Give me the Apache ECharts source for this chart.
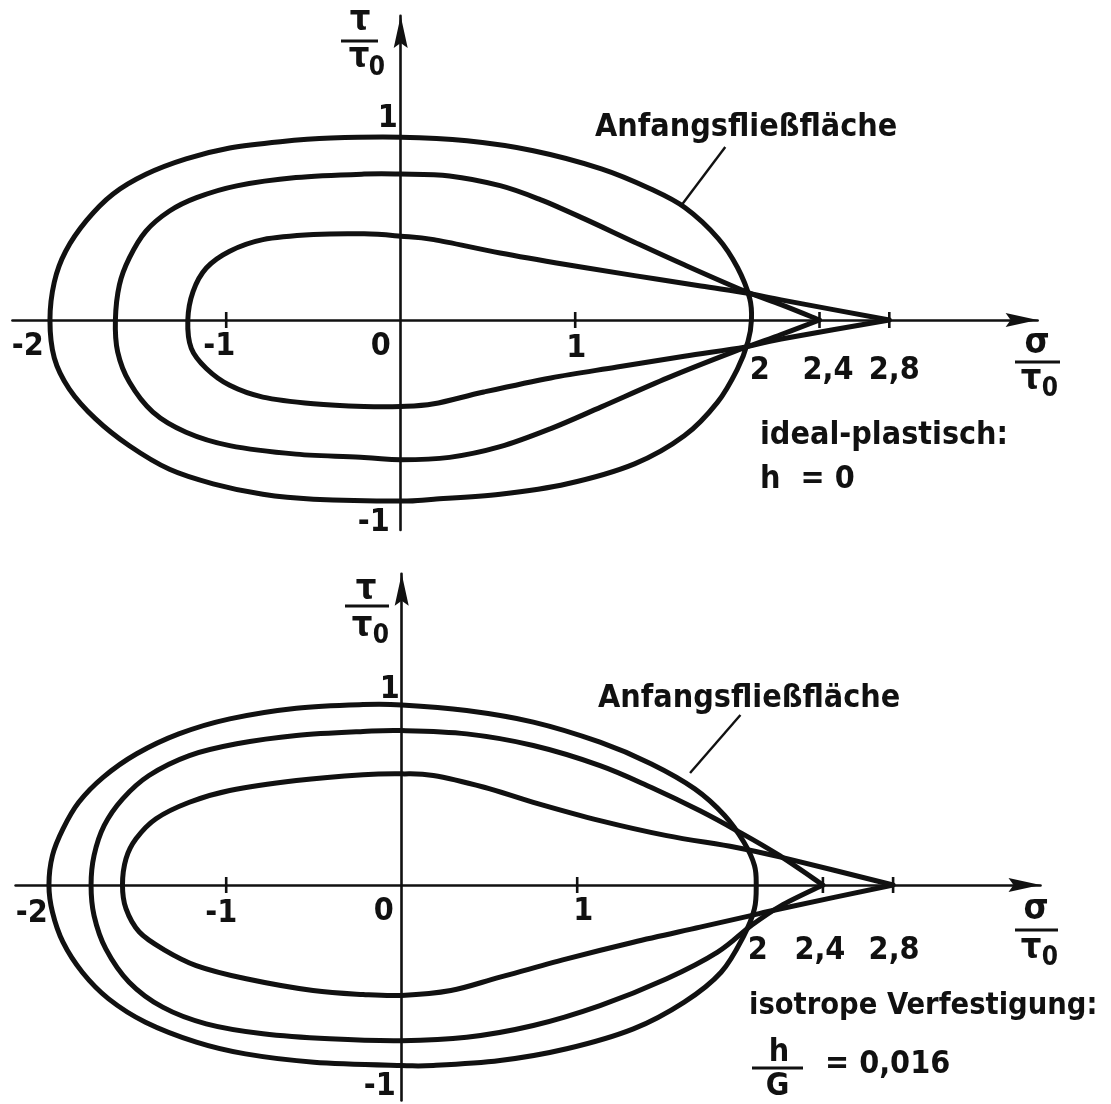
<!DOCTYPE html>
<html>
<head>
<meta charset="utf-8">
<script src="https://cdn.jsdelivr.net/npm/echarts@6/dist/echarts.min.js"></script>
<style>
  html, body { margin: 0; padding: 0; background: #fff; }
  #main { width: 1111px; height: 1104px; }
</style>
</head>
<body>
<div id="main"></div>
<script>
// Yield surfaces in the (sigma/tau0, tau/tau0) plane

// ---- tick values and their printed labels (decimal comma) ----
const sigmaTickMarks  = [-1, 1, 2.4, 2.8];
const sigmaTickValues = [-2, -1, 0, 1, 2, 2.4, 2.8];
const sigmaTickLabels = ['-2', '-1', '0', '1', '2', '2,4', '2,8'];
const tauTickValues   = [1, -1];
const tauTickLabels   = ['1', '-1'];

// ---- upper diagram: ideal-plastisch, h = 0 ----
const idealInitial = [
  [2.01,0],[2.0,0.12],[1.93,0.29],[1.82,0.45],[1.63,0.62],[1.43,0.725],[1.15,0.835],[0.76,0.935],
  [0.38,0.99],[0,1.01],[-0.4,1.005],[-0.69,0.985],[-0.98,0.95],[-1.23,0.89],[-1.46,0.805],
  [-1.65,0.695],[-1.8,0.55],[-1.92,0.38],[-1.985,0.21],[-2.01,0],[-1.985,-0.21],[-1.9,-0.38],
  [-1.75,-0.545],[-1.555,-0.695],[-1.325,-0.825],[-1.075,-0.905],[-0.79,-0.963],[-0.5,-0.99],
  [0,-1.0],[0.19,-0.99],[0.57,-0.963],[0.955,-0.905],[1.34,-0.795],[1.625,-0.64],[1.815,-0.455],
  [1.93,-0.27],[1.99,-0.12],[2.01,0]
];
const idealMiddle = [
  [2.4,0],[2.18,0.085],[1.97,0.16],[1.625,0.305],[1.34,0.43],[1.05,0.56],[0.8,0.665],[0.57,0.742],
  [0.28,0.796],[0,0.806],[-0.21,0.806],[-0.6,0.787],[-0.94,0.741],[-1.17,0.676],[-1.325,0.602],
  [-1.46,0.491],[-1.555,0.343],[-1.612,0.194],[-1.635,0],[-1.622,-0.176],[-1.555,-0.343],
  [-1.42,-0.509],[-1.23,-0.62],[-0.98,-0.694],[-0.6,-0.741],[-0.21,-0.759],[0,-0.772],
  [0.28,-0.759],[0.57,-0.7],[0.86,-0.6],[1.15,-0.48],[1.53,-0.32],[1.91,-0.175],[2.18,-0.08],[2.4,0]
];
const idealInner = [
  [2.8,0],[2.18,0.111],[1.99,0.148],[1.72,0.188],[1.34,0.245],[0.955,0.305],[0.57,0.37],[0.19,0.444],
  [0,0.463],[-0.21,0.476],[-0.5,0.472],[-0.79,0.444],[-0.98,0.38],[-1.114,0.287],[-1.19,0.157],
  [-1.22,0],[-1.2,-0.157],[-1.114,-0.268],[-0.98,-0.361],[-0.79,-0.426],[-0.5,-0.463],[-0.21,-0.478],
  [0,-0.478],[0.19,-0.463],[0.476,-0.398],[0.86,-0.32],[1.24,-0.26],[1.625,-0.2],[1.97,-0.15],
  [2.18,-0.105],[2.8,0]
];
const idealLeader = [[1.86,0.956],[1.61,0.635]];

// ---- lower diagram: isotrope Verfestigung, h/G = 0,016 ----
const isoInitial = [
  [2.02,0],[2.01,0.108],[1.95,0.236],[1.84,0.384],[1.67,0.531],[1.42,0.67],[1.13,0.789],[0.75,0.9],
  [0.37,0.964],[0,0.995],[-0.22,0.997],[-0.6,0.977],[-0.98,0.918],[-1.27,0.835],[-1.51,0.725],
  [-1.7,0.596],[-1.84,0.457],[-1.93,0.31],[-1.99,0.163],[-2.01,0],[-1.99,-0.15],[-1.93,-0.316],
  [-1.82,-0.482],[-1.67,-0.629],[-1.46,-0.758],[-1.17,-0.868],[-0.89,-0.933],[-0.5,-0.979],
  [0,-0.997],[0.18,-0.997],[0.56,-0.97],[0.94,-0.905],[1.32,-0.795],[1.61,-0.647],[1.82,-0.482],
  [1.95,-0.279],[2.01,-0.131],[2.02,0]
];
const isoMiddle = [
  [2.4,0],[2.14,0.17],[1.91,0.3],[1.7,0.41],[1.42,0.54],[1.13,0.66],[0.75,0.771],[0.37,0.835],
  [0,0.853],[-0.22,0.848],[-0.6,0.826],[-0.94,0.78],[-1.21,0.715],[-1.44,0.605],[-1.59,0.476],
  [-1.695,0.329],[-1.753,0.163],[-1.77,0],[-1.753,-0.169],[-1.686,-0.353],[-1.553,-0.537],
  [-1.362,-0.675],[-1.114,-0.767],[-0.79,-0.822],[-0.41,-0.85],[0,-0.86],[0.37,-0.841],
  [0.75,-0.776],[1.13,-0.666],[1.51,-0.518],[1.8,-0.371],[1.99,-0.225],[2.16,-0.115],[2.4,0]
];
const isoInner = [
  [2.8,0],[2.16,0.154],[1.9,0.209],[1.51,0.273],[1.13,0.356],[0.75,0.457],[0.47,0.54],[0.18,0.605],
  [0,0.614],[-0.22,0.609],[-0.6,0.577],[-0.98,0.522],[-1.21,0.457],[-1.4,0.366],[-1.514,0.255],
  [-1.571,0.145],[-1.591,0],[-1.571,-0.131],[-1.495,-0.26],[-1.362,-0.353],[-1.171,-0.445],
  [-0.886,-0.518],[-0.505,-0.583],[-0.22,-0.605],[0,-0.61],[0.28,-0.583],[0.56,-0.509],
  [0.94,-0.408],[1.32,-0.316],[1.7,-0.233],[1.99,-0.169],[2.16,-0.131],[2.8,0]
];
const isoLeader = [[1.93,0.939],[1.643,0.619]];

// ---- drawing style ----
const INK = '#111';
const FONT = "'DejaVu Sans Condensed', 'DejaVu Sans', sans-serif";
const LABEL_SIZE = 32;
const GREEK_SIZE = 36;

// Each diagram: origin in pixels, pixels per unit, axis extents, label nudges
const panels = [
  {
    ox: 400.7, oy: 320, ux: 174.5, uy: 181,
    xMin: -2.225, xMax: 3.65, yMin: -1.16, yMax: 1.68,
    curves: [
      { pts: idealInitial, closed: true },
      { pts: idealMiddle, closed: false },
      { pts: idealInner, closed: false }
    ],
    leader: idealLeader,
    xLabelNudge: [[-24,26.5],[-7,26.5],[-20,26.5],[1,28.5],[10,50.5],[8.5,50.5],[5,50.5]],
    yLabelNudge: [[-13,-20.5],[-27,21.5]]
  },
  {
    ox: 401.7, oy: 885, ux: 175.5, uy: 181,
    xMin: -2.2, xMax: 3.64, yMin: -1.19, yMax: 1.72,
    curves: [
      { pts: isoInitial, closed: true },
      { pts: isoMiddle, closed: false },
      { pts: isoInner, closed: false }
    ],
    leader: isoLeader,
    xLabelNudge: [[-19,28.5],[-5,28.5],[-18,26.5],[6,26.5],[5,65.5],[-3,65.5],[1,65.5]],
    yLabelNudge: [[-12,-14.5],[-22,20.5]]
  }
];

// Catmull-Rom spline through pixel points, written as cubic Bezier path data.
// Open curves keep their end points sharp (the corner on the sigma axis).
function splinePath(px, closed) {
  const P = closed ? px.slice(0, px.length - 1) : px;
  const m = P.length;
  const get = i => closed ? P[(i % m + m) % m] : P[Math.max(0, Math.min(m - 1, i))];
  let d = 'M' + P[0][0] + ',' + P[0][1];
  const segs = closed ? m : m - 1;
  for (let i = 0; i < segs; i++) {
    const p0 = get(i - 1), p1 = get(i), p2 = get(i + 1), p3 = get(i + 2);
    const c1x = p1[0] + (p2[0] - p0[0]) / 6, c1y = p1[1] + (p2[1] - p0[1]) / 6;
    const c2x = p2[0] - (p3[0] - p1[0]) / 6, c2y = p2[1] - (p3[1] - p1[1]) / 6;
    d += ' C' + c1x + ',' + c1y + ' ' + c2x + ',' + c2y + ' ' + p2[0] + ',' + p2[1];
  }
  if (closed) d += ' Z';
  return d;
}

const arrowPath = 'path://M7,0 L14,32 L7,27 L0,32 Z';

const grids = [], xAxes = [], yAxes = [], series = [];
panels.forEach((p, i) => {
  grids.push({
    left: p.ox + p.xMin * p.ux,
    top: p.oy - p.yMax * p.uy,
    width: (p.xMax - p.xMin) * p.ux,
    height: (p.yMax - p.yMin) * p.uy,
    outerBoundsMode: 'none',
    containLabel: false
  });
  const axisCommon = {
    type: 'value', gridIndex: i,
    axisLine: {
      show: true, onZero: true,
      symbol: ['none', arrowPath], symbolSize: [14, 32], symbolOffset: [0, -16],
      lineStyle: { color: INK, width: 2.6 }
    },
    axisTick: { show: false }, axisLabel: { show: false }, splitLine: { show: false }
  };
  xAxes.push(Object.assign({}, axisCommon, { min: p.xMin, max: p.xMax }));
  yAxes.push(Object.assign({}, axisCommon, { min: p.yMin, max: p.yMax }));

  // yield surfaces: the whole point list is mapped through the axes and drawn as one smooth path
  p.curves.forEach(c => {
    series.push({
      type: 'custom', xAxisIndex: i, yAxisIndex: i, silent: true, z: 3,
      data: c.pts,
      renderItem: (params, api) => {
        if (params.dataIndex !== 0) return null;
        const px = c.pts.map(v => api.coord(v));
        return { type: 'path', shape: { pathData: splinePath(px, c.closed) },
                 style: { stroke: INK, fill: null, lineWidth: 5, lineJoin: 'miter', lineCap: 'round' } };
      }
    });
  });
  series.push({
    type: 'line', xAxisIndex: i, yAxisIndex: i, data: p.leader,
    showSymbol: false, silent: true,
    lineStyle: { color: INK, width: 2.4 }
  });
  // tick strokes across the sigma axis
  series.push({
    type: 'custom', xAxisIndex: i, yAxisIndex: i, silent: true,
    data: sigmaTickMarks.map(v => [v, 0]),
    renderItem: (params, api) => {
      const pt = api.coord([api.value(0), api.value(1)]);
      return { type: 'line', shape: { x1: pt[0], y1: pt[1] - 8, x2: pt[0], y2: pt[1] + 8 },
               style: { stroke: INK, lineWidth: 2.6 } };
    }
  });
  // sigma tick labels
  series.push({
    type: 'custom', xAxisIndex: i, yAxisIndex: i, silent: true,
    data: sigmaTickValues.map((v, k) => [v, 0, k]),
    renderItem: (params, api) => {
      const k = api.value(2);
      const pt = api.coord([api.value(0), api.value(1)]);
      const n = p.xLabelNudge[k];
      return { type: 'text', x: pt[0] + n[0], y: pt[1] + n[1],
               style: { text: sigmaTickLabels[k], fontSize: LABEL_SIZE, fontFamily: FONT, fontWeight: 'bold',
                        fill: INK, align: 'center', verticalAlign: 'middle' } };
    }
  });
  // tau tick labels
  series.push({
    type: 'custom', xAxisIndex: i, yAxisIndex: i, silent: true,
    data: tauTickValues.map((v, k) => [0, v, k]),
    renderItem: (params, api) => {
      const k = api.value(2);
      const pt = api.coord([api.value(0), api.value(1)]);
      const n = p.yLabelNudge[k];
      return { type: 'text', x: pt[0] + n[0], y: pt[1] + n[1],
               style: { text: tauTickLabels[k], fontSize: LABEL_SIZE, fontFamily: FONT, fontWeight: 'bold',
                        fill: INK, align: 'center', verticalAlign: 'middle' } };
    }
  });
});

// ---- annotation text and fraction titles ----
function txt(x, y, text, size, align) {
  return { type: 'text', x: x, y: y, silent: true, z: 10,
           style: { text: text, fontSize: size || LABEL_SIZE, fontFamily: FONT, fontWeight: 'bold',
                    fill: INK, align: align || 'left', verticalAlign: 'middle' } };
}
function bar(x1, x2, y) {
  return { type: 'rect', silent: true, z: 10, shape: { x: x1, y: y - 1.5, width: x2 - x1, height: 3 },
           style: { fill: INK } };
}
// fraction "num / tau_0": numerator centre, bar span, denominator tau centre, subscript centre
function tauFraction(num, cx, yNum, bx1, bx2, yBar, tx, yDen, sx, ySub) {
  return [
    txt(cx, yNum, num, GREEK_SIZE, 'center'),
    bar(bx1, bx2, yBar),
    txt(tx, yDen, 'τ', GREEK_SIZE, 'center'),
    txt(sx, ySub, '0', 26, 'center')
  ];
}

const graphics = [].concat(
  // upper diagram
  tauFraction('τ', 360, 21, 341, 378, 41, 359, 58, 377, 68),
  tauFraction('σ', 1037, 344, 1015, 1060, 362, 1031, 380, 1050, 389),
  [ txt(595, 127.5, 'Anfangsfließfläche'),
    txt(760, 435.5, 'ideal-plastisch:'),
    txt(760, 480, 'h  = 0') ],
  // lower diagram
  tauFraction('τ', 366, 590, 345, 389, 606, 362, 627, 381, 636),
  tauFraction('σ', 1036, 910, 1015, 1058, 930, 1031, 949, 1050, 958),
  [ txt(598, 699, 'Anfangsfließfläche'),
    txt(749, 1006.5, 'isotrope Verfestigung:', 30.5),
    txt(779, 1053, 'h', LABEL_SIZE, 'center'),
    bar(752, 803, 1068),
    txt(777.5, 1087, 'G', LABEL_SIZE, 'center'),
    txt(825, 1065, '= 0,016') ]
);

const chart = echarts.init(document.getElementById('main'), null, { renderer: 'canvas' });
chart.setOption({
  backgroundColor: '#fff',
  animation: false,
  grid: grids,
  xAxis: xAxes,
  yAxis: yAxes,
  series: series,
  graphic: { elements: graphics }
});
</script>
</body>
</html>
